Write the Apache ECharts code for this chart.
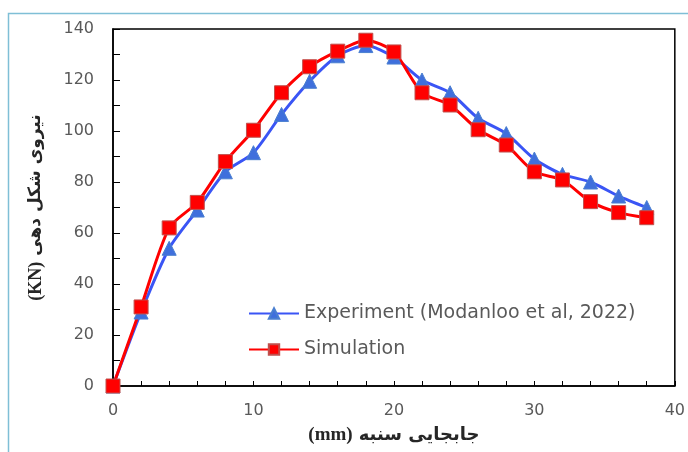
<!DOCTYPE html>
<html>
<head>
<meta charset="utf-8">
<script src="https://cdn.jsdelivr.net/npm/echarts@6/dist/echarts.min.js"></script>
<style>html,body{margin:0;padding:0;background:#fff;}#c{width:688px;height:452px;}</style>
</head>
<body>
<div id="c"></div>
<script>
const xValues = [0,2,4,6,8,10,12,14,16,18,20,22,24,26,28,30,32,34,36,38];
const experiment = [0,29,54,69,84,91.5,106.5,119.5,129.5,133.5,129,120,115,105,99,89,83,80,74.5,70];
const simulation = [0,31,62,72,88,100.3,115,125.2,131.3,135.6,131,115,110.2,100.5,94.5,84,80.8,72.3,68,66];
const seriesNames = ['Experiment (Modanloo et al, 2022)', 'Simulation'];
const xAxisTitle = ['(mm)', 'جابجایی سنبه'];
const yAxisTitle = ['(KN)', 'نیروی شکل دهی'];

const chart = echarts.init(document.getElementById('c'));
const lblFont = 'DejaVu Sans';
chart.setOption({
  animation: false,
  backgroundColor: '#fff',
  graphic: [{
    type: 'rect', z: -10,
    shape: {x: 8.5, y: 13.5, width: 720, height: 500},
    style: {fill: 'none', stroke: '#7fbfd6', lineWidth: 1.5}
  }],
  grid: {left: 113, top: 29, right: 11, bottom: 66, show: true, borderColor: '#000', borderWidth: 1.5, backgroundColor: 'transparent'},
  legend: {
    orient: 'vertical', left: 243, top: 299, itemWidth: 50, itemHeight: 13, itemGap: 17,
    textStyle: {color: '#595959', fontSize: 19, fontFamily: lblFont},
    data: seriesNames
  },
  xAxis: {
    type: 'value', min: 0, max: 40, interval: 2,
    axisLine: {lineStyle: {color: '#000', width: 1.5}},
    axisTick: {inside: true, length: 5, lineStyle: {color: '#000', width: 1}},
    splitLine: {show: false},
    axisLabel: {color: '#595959', fontSize: 16, fontFamily: lblFont, margin: 17,
      formatter: v => (v % 10 === 0 ? String(v) : '')},
    name: '{a|' + xAxisTitle[0] + '}{b|' + xAxisTitle[1] + '}',
    nameLocation: 'middle', nameGap: 40,
    nameTextStyle: {rich: {
      a: {fontFamily: 'Liberation Serif', fontWeight: 'bold', fontSize: 19, color: '#262626', padding: [0, 6, 0, 0]},
      b: {fontFamily: 'DejaVu Sans', fontWeight: 'bold', fontSize: 18, color: '#262626'}
    }}
  },
  yAxis: {
    type: 'value', min: 0, max: 140, interval: 10,
    axisLine: {show: true, lineStyle: {color: '#000', width: 1.5}},
    axisTick: {show: true, inside: true, length: 7, lineStyle: {color: '#000', width: 1}},
    splitLine: {show: false},
    axisLabel: {color: '#595959', fontSize: 16, fontFamily: lblFont, margin: 19,
      formatter: v => (v % 20 === 0 ? String(v) : '')},
    name: '{a|' + yAxisTitle[0] + '}{b|' + yAxisTitle[1] + '}',
    nameLocation: 'middle', nameGap: 68, nameRotate: 90,
    nameTextStyle: {rich: {
      a: {fontFamily: 'Liberation Serif', fontWeight: 'bold', fontSize: 18, color: '#262626', padding: [0, 6, 0, 0]},
      b: {fontFamily: 'DejaVu Sans', fontWeight: 'bold', fontSize: 17, color: '#262626'}
    }}
  },
  series: [
    {
      name: seriesNames[0], type: 'line', smooth: 0.25,
      data: xValues.map((x, i) => [x, experiment[i]]),
      symbol: 'triangle', symbolSize: 14,
      lineStyle: {color: '#3a55f5', width: 3},
      itemStyle: {color: '#3f6fdc', borderColor: '#4a7fd0', borderWidth: 1}
    },
    {
      name: seriesNames[1], type: 'line', smooth: 0.25,
      data: xValues.map((x, i) => [x, simulation[i]]),
      symbol: 'rect', symbolSize: 14,
      lineStyle: {color: '#ff0000', width: 3},
      itemStyle: {color: '#ff0000', borderColor: '#c0504d', borderWidth: 1}
    }
  ]
});
</script>
</body>
</html>
